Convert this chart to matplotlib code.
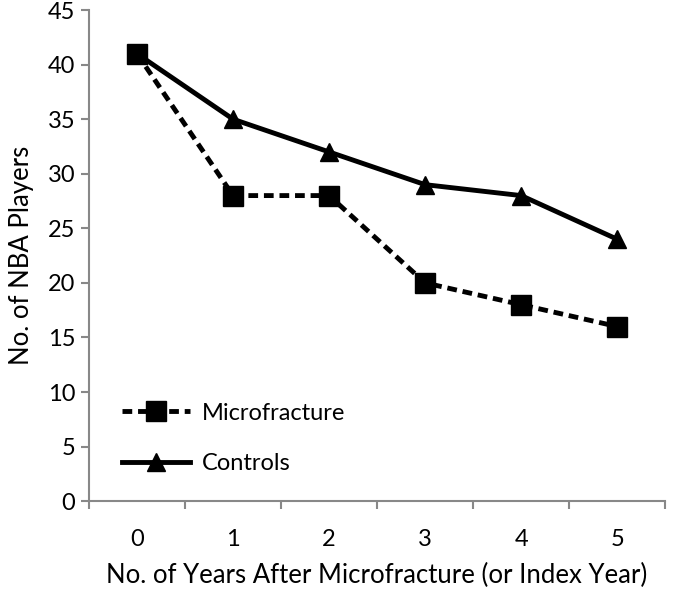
import matplotlib
matplotlib.use("Agg")
import matplotlib.pyplot as plt
import numpy as np

years = [0, 1, 2, 3, 4, 5]
microfracture = [41, 28, 28, 20, 18, 16]
controls = [41, 35, 32, 29, 28, 24]
yticks = [0, 5, 10, 15, 20, 25, 30, 35, 40, 45]

plt.rcParams['font.family'] = ['Lato', 'DejaVu Sans']

fig = plt.figure(figsize=(6.74, 5.91), dpi=100)
ax = fig.add_axes([0.132, 0.152, 0.855, 0.831])

x = np.arange(len(years))
ax.plot(x, microfracture, color='black', lw=3.5, ls=(0, (2.0, 1.2)), marker='s',
        markersize=14, label='Microfracture')
ax.plot(x, controls, color='black', lw=3.5, ls='-', marker='^',
        markersize=13, label='Controls')

ax.set_xlim(-0.5, len(years) - 0.5)
ax.set_ylim(0, 45)
ax.set_yticks(yticks)
ax.set_xticks(x)
ax.set_xticklabels([str(v) for v in years])
ax.set_xticks(np.arange(-0.5, len(years), 1), minor=True)
ax.tick_params(axis='x', which='major', length=0, pad=20, labelsize=17)
ax.tick_params(axis='x', which='minor', length=6, width=1.5, color='#888888')
ax.tick_params(axis='y', length=6, width=1.5, color='#888888', labelsize=17, pad=4)

for s in ['top', 'right']:
    ax.spines[s].set_visible(False)
for s in ['left', 'bottom']:
    ax.spines[s].set_color('#888888')
    ax.spines[s].set_linewidth(1.5)

ax.set_xlabel('No. of Years After Microfracture (or Index Year)', fontsize=18.5, labelpad=9)
ax.set_ylabel('No. of NBA Players', fontsize=18.5, labelpad=10)

ax.legend(loc='lower left', bbox_to_anchor=(0.02, 0.012), frameon=False, fontsize=17,
          handlelength=2.9, labelspacing=1.25, handletextpad=0.5)

fig.savefig('out.png', dpi=100)
